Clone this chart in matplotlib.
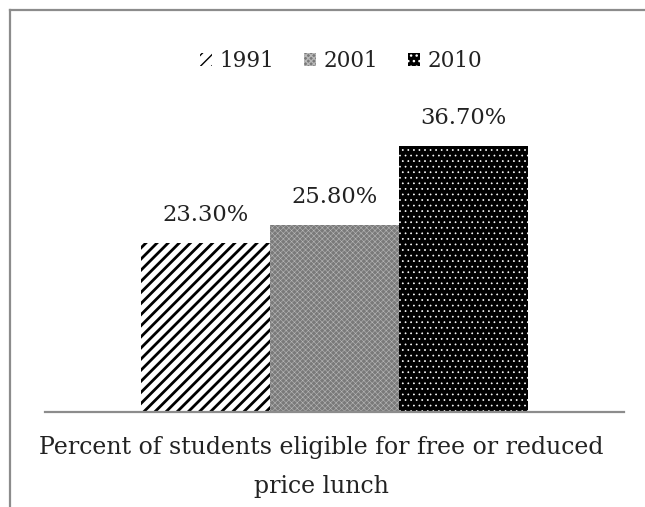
import matplotlib
matplotlib.use("Agg")
import matplotlib.pyplot as plt
from matplotlib.patches import Patch
from matplotlib.lines import Line2D

years = ["1991", "2001", "2010"]
values = [23.3, 25.8, 36.7]
category = "Percent of students eligible for free or reduced\nprice lunch"

plt.rcParams["font.family"] = "DejaVu Serif"

# pattern styles for each year
styles = [
    dict(facecolor="white", edgecolor="black", hatch="///", hlw=2.0),
    dict(facecolor="#7a7a7a", edgecolor="#b8b8b8", hatch="xxxxxx", hlw=0.4),
    dict(facecolor="black", edgecolor="white", hatch="...", hlw=0.5),
]

fig = plt.figure(figsize=(6.45, 5.07), dpi=100)
W, H = 645, 507
ax = fig.add_axes([45 / W, 1 - 412 / H, (624 - 45) / W, (412 - 100) / H])

positions = [-1, 0, 1]
for pos, val, st in zip(positions, values, styles):
    with plt.rc_context({"hatch.linewidth": st["hlw"]}):
        ax.bar(pos, val, width=1.0, facecolor=st["facecolor"],
               edgecolor=st["edgecolor"], hatch=st["hatch"], linewidth=0)
    ax.text(pos, val + 2.3, f"{val:.2f}%", ha="center", va="bottom",
            fontsize=16.3, color="#222222")

half = 289.5 / 129
ax.set_xlim(-half, half)
ax.set_ylim(0, 312 / 7.25)
for s in ["top", "right", "left"]:
    ax.spines[s].set_visible(False)
ax.spines["bottom"].set_color("#8c8c8c")
ax.spines["bottom"].set_linewidth(1.6)
ax.set_xticks([])
ax.set_yticks([])

fig.text(321 / W, 1 - 467 / H, category, ha="center", va="center",
         fontsize=17, color="#222222", linespacing=1.85)

handles = []
for yr, st in zip(years, styles):
    with plt.rc_context({"hatch.linewidth": st["hlw"]}):
        handles.append(Patch(facecolor=st["facecolor"], edgecolor=st["edgecolor"],
                             hatch=st["hatch"], linewidth=0, label=yr))
fig.legend(handles=handles, loc="center", bbox_to_anchor=(341 / W, 1 - 61 / H),
           ncol=3, frameon=False, fontsize=15.5, handlelength=0.55, handleheight=0.55,
           handletextpad=0.35, columnspacing=1.4, labelcolor="#222222")

# outer frame (only top and left visible in the crop)
fig.add_artist(Line2D([9.5 / W, 1], [1 - 9.5 / H, 1 - 9.5 / H],
                      color="#8c8c8c", linewidth=1.6))
fig.add_artist(Line2D([9.5 / W, 9.5 / W], [0, 1 - 9.5 / H],
                      color="#8c8c8c", linewidth=1.6))

fig.savefig("out.png", dpi=100)
